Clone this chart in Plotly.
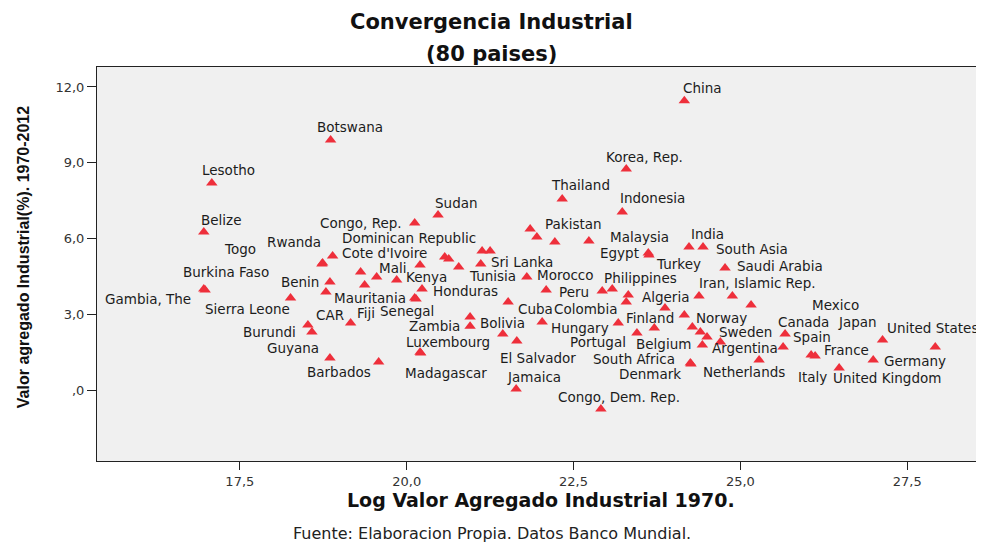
import plotly.graph_objects as go

# Log industrial value added 1970 (x) vs industrial growth 1970-2012 in % (y)
countries = [
    "China", "Botswana", "Lesotho", "Korea, Rep.", "Thailand", "Indonesia",
    "Sudan", "Congo, Rep.", "Belize", "Pakistan", "", "", "Malaysia", "Egypt",
    "Turkey", "India", "South Asia", "Saudi Arabia", "Rwanda", "Cote d'Ivoire",
    "Togo", "Burkina Faso", "Gambia, The", "Sierra Leone", "Benin", "", "",
    "Mali", "", "Kenya", "", "Dominican Republic", "", "Tunisia", "", "",
    "Sri Lanka", "Morocco", "Honduras", "Mauritania", "Senegal", "Cuba", "Peru",
    "Colombia", "Philippines", "Algeria", "", "", "Iran, Islamic Rep.", "Mexico",
    "", "Norway", "Finland", "Hungary", "Bolivia", "Zambia", "Fiji", "CAR",
    "Burundi", "Guyana", "Barbados", "Luxembourg", "Madagascar", "",
    "El Salvador", "Jamaica", "Congo, Dem. Rep.", "Portugal", "Belgium",
    "Sweden", "", "", "Argentina", "", "South Africa", "Denmark", "Netherlands",
    "Spain", "Canada", "France", "Italy", "United Kingdom", "Germany", "Japan",
    "United States",
]
log_va_1970 = [
    24.16, 18.86, 17.08, 23.29, 22.33, 23.23,
    20.47, 20.12, 16.96, 21.85, 21.95, 22.22, 22.73, 23.62,
    23.63, 24.23, 24.44, 24.77, 18.74, 18.89,
    18.73, 16.96, 16.98, 18.26, 18.85, 18.79, 19.31,
    19.55, 19.37, 19.85, 20.20, 20.57, 20.63, 20.78, 21.13, 21.25,
    21.11, 21.80, 20.23, 20.12, 20.14, 21.52, 22.09,
    22.93, 23.08, 23.32, 23.29, 24.38, 24.88, 25.16,
    23.87, 24.16, 23.17, 22.03, 20.95, 20.95, 19.16, 18.52,
    18.58, 18.85, 19.58, 20.20, 20.21, 21.44,
    21.65, 21.64, 22.91, 23.45, 23.71,
    24.50, 24.28, 24.40, 24.43, 24.70, 24.25, 24.26, 25.28,
    25.67, 25.64, 26.06, 26.12, 26.48, 26.99, 27.13,
    27.92,
]
growth_pct = [
    11.45, 9.90, 8.20, 8.75, 7.56, 7.05,
    6.93, 6.61, 6.26, 6.38, 6.06, 5.86, 5.90, 5.43,
    5.35, 5.66, 5.66, 4.83, 5.03, 5.31,
    4.99, 4.00, 3.96, 3.64, 4.28, 3.88, 4.67,
    4.48, 4.16, 4.36, 4.95, 5.27, 5.19, 4.87, 5.50, 5.50,
    4.99, 4.48, 4.00, 3.64, 3.60, 3.49, 3.96,
    3.92, 4.00, 3.76, 3.49, 3.72, 3.72, 3.37,
    3.25, 2.97, 2.65, 2.69, 2.89, 2.53, 2.65, 2.57,
    2.30, 1.27, 1.11, 1.50, 1.47, 2.22,
    1.94, 0.04, -0.75, 2.26, 2.46,
    2.10, 2.50, 2.30, 1.78, 1.90, 1.07, 1.03, 1.19,
    2.22, 1.70, 1.39, 1.35, 0.87, 1.19, 1.98,
    1.70,
]

x_tickvals = [17.5, 20.0, 22.5, 25.0, 27.5]
x_ticktext = ["17,5", "20,0", "22,5", "25,0", "27,5"]
y_tickvals = [0, 3, 6, 9, 12]
y_ticktext = [",0", "3,0", "6,0", "9,0", "12,0"]

# pixel offset of each label centre from its marker (dx right, dy down)
label_offsets = {
    "China": (18, -13), "Botswana": (19, -13), "Lesotho": (17, -13),
    "Korea, Rep.": (18, -12), "Thailand": (18, -14), "Indonesia": (30, -14),
    "Sudan": (18, -12), "Congo, Rep.": (-54, 0), "Belize": (17, -12),
    "Pakistan": (43, -5), "Malaysia": (51, -4), "Egypt": (-29, 0),
    "Turkey": (30, 9), "India": (18, -13), "South Asia": (49, 2),
    "Saudi Arabia": (55, -2), "Rwanda": (-29, -21), "Cote d'Ivoire": (52, -3),
    "Togo": (-82, -15), "Burkina Faso": (22, -17), "Gambia, The": (-57, 9),
    "Sierra Leone": (-43, 11), "Benin": (-30, 0), "Mali": (16, -9),
    "Kenya": (30, -3), "Dominican Republic": (-36, -19), "Tunisia": (34, 9),
    "Sri Lanka": (41, -2), "Morocco": (39, -2), "Honduras": (43, 2),
    "Mauritania": (-45, 0), "Senegal": (-9, 12), "Cuba": (27, 7),
    "Peru": (28, 2), "Colombia": (-17, 18), "Philippines": (28, -11),
    "Algeria": (37, 2), "Iran, Islamic Rep.": (25, -13), "Mexico": (84, 0),
    "Norway": (37, 3), "Finland": (32, -5), "Hungary": (38, 6),
    "Bolivia": (32, 6), "Zambia": (-36, 0), "Fiji": (15, -10),
    "CAR": (22, -10), "Burundi": (-42, 0), "Guyana": (-37, -10),
    "Barbados": (-40, 10), "Luxembourg": (28, -10), "Madagascar": (25, 20),
    "El Salvador": (21, 17), "Jamaica": (18, -12), "Congo, Dem. Rep.": (18, -12),
    "Portugal": (-39, 9), "Belgium": (9, 16), "Sweden": (38, -5),
    "Argentina": (43, 3), "South Africa": (-56, -4), "Denmark": (-41, 10),
    "Netherlands": (-15, 12), "Spain": (27, 3), "Canada": (20, -25),
    "France": (35, -5), "Italy": (-3, 21), "United Kingdom": (48, 10),
    "Germany": (42, 1), "Japan": (-25, -18), "United States": (-3, -19),
}

fig = go.Figure()

fig.add_trace(
    go.Scatter(
        x=log_va_1970,
        y=growth_pct,
        mode='markers',
        marker=dict(symbol='triangle-up', size=10, color='#ee2f3b',
                    line=dict(width=0)),
        hovertext=countries,
        showlegend=False
        )
    )

annotations = []
for name, xv, yv in zip(countries, log_va_1970, growth_pct):
    if not name:
        continue
    dx, dy = label_offsets[name]
    annotations.append(dict(
        x=xv, y=yv, xref='x', yref='y', text=name, showarrow=False,
        xshift=dx, yshift=-dy, xanchor='center', yanchor='middle',
        font=dict(family='DejaVu Sans', size=13.5, color='#1c1c1c')
        ))

title_font = dict(family='DejaVu Sans', size=21, color='#111111')
annotations += [
    dict(text='<b>Convergencia Industrial</b>', xref='paper', yref='paper',
         x=0.445, y=1.114, showarrow=False, xanchor='center',
         yanchor='middle', font=title_font),
    dict(text='<b>(80 paises)</b>', xref='paper', yref='paper',
         x=0.445, y=1.033, showarrow=False, xanchor='center',
         yanchor='middle', font=title_font),
    dict(text='<b>Log Valor Agregado Industrial 1970.</b>', xref='paper',
         yref='paper', x=0.5, y=-0.099, showarrow=False, xanchor='center',
         yanchor='middle',
         font=dict(family='DejaVu Sans', size=19, color='#111111')),
    dict(text='<b>Valor agregado Industrial(%). 1970-2012</b>', xref='paper',
         yref='paper', x=-0.082, y=0.518, showarrow=False, textangle=-90,
         xanchor='center', yanchor='middle',
         font=dict(family='Liberation Sans, Arial', size=16, color='#111111')),
    dict(text='Fuente: Elaboracion Propia. Datos Banco Mundial.', xref='paper',
         yref='paper', x=0.445, y=-0.183, showarrow=False, xanchor='center',
         yanchor='middle',
         font=dict(family='DejaVu Sans', size=16, color='#222222')),
    ]

fig.update_xaxes(
    range=[15.36, 28.65], tickvals=x_tickvals, ticktext=x_ticktext,
    showgrid=False, zeroline=False, showline=True, linecolor='#222222',
    linewidth=1, mirror=True, ticks='outside', ticklen=8, tickcolor='#222222',
    tickfont=dict(family='DejaVu Sans', size=13, color='#333333')
    )
fig.update_yaxes(
    range=[-2.81, 12.79], tickvals=y_tickvals, ticktext=y_ticktext,
    showgrid=False, zeroline=False, showline=True, linecolor='#222222',
    linewidth=1, ticks='outside', ticklen=9, tickcolor='#222222',
    tickfont=dict(family='DejaVu Sans', size=13, color='#333333')
    )

# the page body adds an 8px offset, so the figure is sized to land the
# plot area where the reference has it
fig.update_layout(
    width=976, height=535,
    margin=dict(l=89, r=0, t=59, b=82),
    plot_bgcolor='#f0f0f0',
    paper_bgcolor='white',
    annotations=annotations,
    showlegend=False
    )

fig.write_html("out.html")
